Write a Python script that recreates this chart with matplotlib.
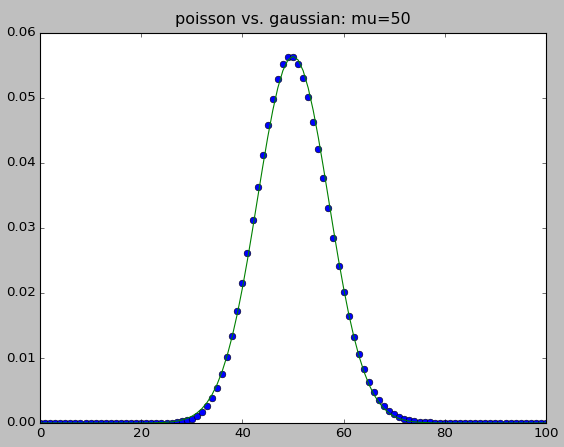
import matplotlib
matplotlib.use("Agg")
import matplotlib.pyplot as plt

plt.style.use("classic")

title = "poisson vs. gaussian: mu=50"
k_values = list(range(0, 101))

poisson_pmf = [
    0, 0, 0, 0, 0, 0, 0, 0, 0, 0,
    0, 0, 0, 0, 0, 0, 0, 0, 0, 0,
    0, 0, 0, 0.00001, 0.00002, 0.00004, 0.00007, 0.00013, 0.00024, 0.00041,
    0.00068, 0.00109, 0.00171, 0.00259, 0.00380, 0.00543, 0.00755, 0.01020, 0.01342, 0.01720,
    0.02150, 0.02622, 0.03121, 0.03629, 0.04124, 0.04583, 0.04981, 0.05299, 0.05520, 0.05633,
    0.05633, 0.05523, 0.05310, 0.05009, 0.04638, 0.04217, 0.03765, 0.03303, 0.02847, 0.02413,
    0.02011, 0.01648, 0.01329, 0.01055, 0.00824, 0.00634, 0.00480, 0.00358, 0.00263, 0.00191,
    0.00136, 0.00096, 0.00067, 0.00046, 0.00031, 0.00021, 0.00014, 0.00009, 0.00006, 0.00004,
    0.00002, 0.00001, 0, 0, 0, 0, 0, 0, 0, 0,
    0, 0, 0, 0, 0, 0, 0, 0, 0, 0,
    0,
]

x_curve = list(range(0, 101))
gaussian_pdf = [
    0, 0, 0, 0, 0, 0, 0, 0, 0, 0,
    0, 0, 0, 0, 0, 0, 0, 0, 0, 0,
    0.00001, 0.00001, 0.00002, 0.00004, 0.00007, 0.00011, 0.00018, 0.00028, 0.00045, 0.00069,
    0.00103, 0.00153, 0.00221, 0.00314, 0.00436, 0.00595, 0.00795, 0.01041, 0.01337, 0.01682,
    0.02076, 0.02510, 0.02975, 0.03456, 0.03936, 0.04394, 0.04808, 0.05156, 0.05421, 0.05586,
    0.05642, 0.05586, 0.05421, 0.05156, 0.04808, 0.04394, 0.03936, 0.03456, 0.02975, 0.02510,
    0.02076, 0.01682, 0.01337, 0.01041, 0.00795, 0.00595, 0.00436, 0.00314, 0.00221, 0.00153,
    0.00103, 0.00069, 0.00045, 0.00028, 0.00018, 0.00011, 0.00007, 0.00004, 0.00002, 0.00001,
    0.00001, 0, 0, 0, 0, 0, 0, 0, 0, 0,
    0, 0, 0, 0, 0, 0, 0, 0, 0, 0,
    0,
]

fig = plt.figure(figsize=(564 / 80, 447 / 80), dpi=80, facecolor="#bfbfbf")
ax = fig.add_axes([40 / 564, 24 / 447, 506 / 564, 390 / 447])
ax.plot(k_values, poisson_pmf, "bo", markeredgecolor="k", markeredgewidth=0.5)
ax.plot(x_curve, gaussian_pdf, "g-")
ax.set_xlim(0, 100)
ax.set_ylim(0, 0.06)
ax.set_title(title, pad=8)
fig.savefig("out.png", dpi=80, facecolor="#bfbfbf")
